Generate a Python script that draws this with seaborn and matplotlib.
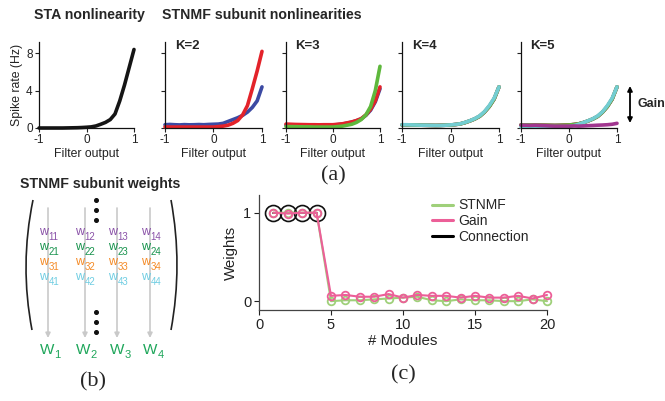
import matplotlib
matplotlib.use("Agg")
import matplotlib.pyplot as plt
import pandas as pd
import seaborn as sns
from matplotlib.lines import Line2D
from matplotlib.path import Path as MPath
from matplotlib.patches import PathPatch

# ---- panel (a) data: nonlinearities sampled on the filter-output axis ----
filter_x = [-1.0, -0.9, -0.8, -0.7, -0.6, -0.5, -0.4, -0.3, -0.2, -0.1, 0.0,
            0.1, 0.2, 0.3, 0.4, 0.5, 0.6, 0.7, 0.8, 0.9, 1.0]

sta_rate = [0.0, 0.0, 0.0, 0.0, 0.0, 0.0, 0.01, 0.02, 0.03, 0.05, 0.08,
            0.12, 0.22, 0.4, 0.6, 0.9, 1.5, 2.9, 4.6, 6.5, 8.4]

k2_red = [0.12, 0.1, 0.1, 0.1, 0.1, 0.1, 0.1, 0.1, 0.1, 0.1, 0.1,
          0.15, 0.2, 0.3, 0.5, 0.8, 1.4, 2.4, 4.2, 6.1, 8.2]
k2_blue = [0.35, 0.38, 0.35, 0.33, 0.36, 0.34, 0.35, 0.37, 0.35, 0.38, 0.4,
           0.42, 0.5, 0.7, 0.9, 1.1, 1.35, 1.7, 2.2, 2.9, 4.4]

k3_red = [0.42, 0.4, 0.38, 0.37, 0.36, 0.35, 0.35, 0.34, 0.35, 0.35, 0.35,
          0.4, 0.45, 0.55, 0.65, 0.8, 1.0, 1.4, 2.0, 2.9, 4.4]
k3_blue = [0.3, 0.3, 0.28, 0.28, 0.27, 0.27, 0.27, 0.28, 0.28, 0.3, 0.32,
           0.36, 0.42, 0.52, 0.63, 0.78, 0.98, 1.35, 1.9, 2.8, 4.2]
k3_green = [0.15, 0.15, 0.14, 0.13, 0.12, 0.12, 0.1, 0.1, 0.1, 0.1, 0.1,
            0.15, 0.2, 0.3, 0.4, 0.6, 0.9, 1.4, 2.3, 4.0, 6.6]

k4_cyan = [0.35, 0.35, 0.33, 0.32, 0.3, 0.3, 0.28, 0.27, 0.27, 0.3, 0.33,
           0.38, 0.45, 0.6, 0.78, 1.0, 1.3, 1.75, 2.4, 3.2, 4.4]
k4_other = [0.33, 0.34, 0.33, 0.31, 0.3, 0.29, 0.28, 0.27, 0.28, 0.3, 0.32,
            0.37, 0.44, 0.58, 0.76, 0.97, 1.25, 1.7, 2.3, 3.1, 4.4]

k5_cyan = [0.1, 0.1, 0.1, 0.1, 0.1, 0.1, 0.1, 0.1, 0.1, 0.12, 0.15,
           0.25, 0.4, 0.58, 0.78, 1.0, 1.3, 1.75, 2.4, 3.2, 4.4]
k5_purple = [0.3, 0.3, 0.28, 0.3, 0.27, 0.25, 0.22, 0.2, 0.2, 0.2, 0.2,
             0.22, 0.2, 0.22, 0.25, 0.27, 0.3, 0.32, 0.35, 0.4, 0.5]

RED, BLUE, GREEN = "#e3232a", "#3c4aa3", "#5eb83c"
CYAN, PURPLE = "#73cdd2", "#a1368f"

panels_a = [
    ("", [(sta_rate, "#151515")]),
    ("K=2", [(k2_blue, BLUE), (k2_red, RED)]),
    ("K=3", [(k3_blue, BLUE), (k3_red, RED), (k3_green, GREEN)]),
    ("K=4", [(k4_other, BLUE), (k4_other, RED), (k4_other, GREEN), (k4_cyan, CYAN)]),
    ("K=5", [(k4_other, BLUE), (k4_other, RED), (k4_other, GREEN),
             (k5_cyan, CYAN), (k5_purple, PURPLE)]),
]

# ---- panel (c) data ----
modules = list(range(1, 21))
stnmf_w = [1.0, 1.0, 1.0, 1.0, 0.0, 0.01, 0.01, 0.02, 0.03, 0.04,
           0.05, 0.01, 0.0, 0.02, 0.01, 0.01, 0.0, 0.0, 0.02, 0.0]
gain_w = [1.0, 0.99, 1.0, 1.0, 0.06, 0.07, 0.05, 0.05, 0.08, 0.04,
          0.07, 0.06, 0.06, 0.04, 0.06, 0.04, 0.04, 0.06, 0.03, 0.07]
conn_modules = [1, 2, 3, 4]
conn_w = [1.0, 1.0, 1.0, 1.0]

# ---- panel (b) labels ----
w_rows = [("11", "12", "13", "14"), ("21", "22", "23", "24"),
          ("31", "32", "33", "34"), ("41", "42", "43", "44")]
w_row_colors = ["#8a52a8", "#16924c", "#f48a26", "#6fcde2"]
W_labels = ["1", "2", "3", "4"]

W, H = 665, 401


def rect(left, top, right, bottom):
    return [left / W, 1 - bottom / H, (right - left) / W, (bottom - top) / H]


sns.set_style("ticks")
plt.rcParams["font.family"] = ["Liberation Sans", "DejaVu Sans"]
plt.rcParams["axes.unicode_minus"] = False

fig = plt.figure(figsize=(W / 100, H / 100), dpi=100)

# overlay in pixel coordinates for annotations
over = fig.add_axes([0, 0, 1, 1])
over.set_xlim(0, W)
over.set_ylim(H, 0)
over.axis("off")

a_boxes = [(39, 134), (165, 262), (286, 380), (402, 499), (521, 617)]
for (label, series), (left, right) in zip(panels_a, a_boxes):
    ax = fig.add_axes(rect(left, 42, right, 128))
    for vals, col in series:
        df = pd.DataFrame({"x": filter_x, "y": vals})
        sns.lineplot(data=df, x="x", y="y", ax=ax, color=col, lw=2.6,
                     solid_capstyle="round", clip_on=False)
    ax.set_xlim(-1, 1)
    ax.set_ylim(0, 9.2)
    ax.set_xticks([-1, 0, 1])
    ax.set_xticklabels(["-1", "0", "1"])
    ax.set_yticks([0, 4, 8])
    ax.tick_params(labelsize=8.5, length=3, width=0.8, pad=1.5, colors="#222222")
    ax.set_xlabel("Filter output", fontsize=8.8, labelpad=1, color="#222222")
    if label:
        ax.set_yticklabels([])
        ax.set_ylabel("")
        ax.text(0.1, 0.95, label, transform=ax.transAxes, fontsize=9.5,
                fontweight="bold", va="center", ha="left")
    else:
        ax.set_ylabel("Spike rate (Hz)", fontsize=8.8, labelpad=2, color="#222222")
    for s in ("left", "bottom"):
        ax.spines[s].set_linewidth(0.9)
        ax.spines[s].set_color("#111111")
    sns.despine(ax=ax)
    ax.patch.set_alpha(0)

over.text(89, 15, "STA nonlinearity", fontsize=10.2, fontweight="bold",
          ha="center", va="center")
over.text(162, 15, "STNMF subunit nonlinearities", fontsize=10.2,
          fontweight="bold", ha="left", va="center")
over.annotate("", xy=(630, 123), xytext=(630, 86),
              arrowprops=dict(arrowstyle="<|-|>", color="black", lw=1.3,
                              mutation_scale=7, shrinkA=0, shrinkB=0))
over.text(638, 104, "Gain", fontsize=9, fontweight="bold", ha="left", va="center")
over.text(333, 176, "(a)", family="Liberation Serif", fontsize=16,
          ha="center", va="center")

# ---- panel (b): weight matrix sketch ----
over.text(20, 184, "STNMF subunit weights", fontsize=10.2, fontweight="bold",
          ha="left", va="center")
for xs in ([(33, 200), (19.5, 265), (32, 330)], [(171, 200), (183, 265), (171, 330)]):
    path = MPath(xs, [MPath.MOVETO, MPath.CURVE3, MPath.CURVE3])
    over.add_patch(PathPatch(path, fill=False, lw=1.2, color="#222222"))
for x in (48, 85, 117, 150):
    over.annotate("", xy=(x, 338), xytext=(x, 208),
                  arrowprops=dict(arrowstyle="-|>", color="#c9c9c9", lw=1.2,
                                  mutation_scale=7, shrinkA=0, shrinkB=0))
for y in (200, 210, 220, 312, 322, 332):
    over.plot(96, y, "o", color="#111111", ms=2.6)
col_x = [39, 75, 108, 141]
row_y = [233, 248, 263, 278]
for subs, col, y in zip(w_rows, w_row_colors, row_y):
    for sub, x in zip(subs, col_x):
        over.text(x, y - 1, "w", color=col, fontsize=9, ha="left", va="center")
        over.text(x + 9.5, y + 4, sub, color=col, fontsize=7, ha="left", va="center")
for lab, x in zip(W_labels, [40, 76, 110, 143]):
    over.text(x, 350, "W", color="#1ea65a", fontsize=11, ha="left", va="center")
    over.text(x + 14.5, 355, lab, color="#1ea65a", fontsize=8, ha="left", va="center")
over.text(93, 382, "(b)", family="Liberation Serif", fontsize=16,
          ha="center", va="center")

# ---- panel (c): module weights ----
axc = fig.add_axes(rect(259, 195, 547, 310))
df_c = pd.DataFrame({"module": modules, "stnmf": stnmf_w, "gain": gain_w})
df_conn = pd.DataFrame({"module": conn_modules, "conn": conn_w})
sns.lineplot(data=df_conn, x="module", y="conn", ax=axc, color="black", lw=1.3,
             marker="o", ms=11.5, mfc="none", mec="#111111", mew=1.2, clip_on=False)
sns.lineplot(data=df_c, x="module", y="stnmf", ax=axc, color="#9fd07a", lw=1.5,
             marker="o", ms=5.5, mfc="none", mec="#9fd07a", mew=1.3, clip_on=False)
sns.lineplot(data=df_c, x="module", y="gain", ax=axc, color="#ec5f98", lw=1.5,
             marker="o", ms=5.5, mfc="none", mec="#ec5f98", mew=1.3, clip_on=False)
axc.set_xlim(0, 20)
axc.set_ylim(-0.1, 1.2)
axc.set_xticks([0, 5, 10, 15, 20])
axc.set_yticks([0, 1])
axc.tick_params(labelsize=10.5, length=3.5, width=0.8, pad=2, colors="#222222")
axc.set_xlabel("# Modules", fontsize=10.8, labelpad=2, color="#222222")
axc.set_ylabel("Weights", fontsize=10.8, labelpad=4, color="#222222")
for s in ("left", "bottom"):
    axc.spines[s].set_linewidth(0.9)
    axc.spines[s].set_color("#444444")
sns.despine(ax=axc)
axc.patch.set_alpha(0)
handles = [Line2D([], [], color="#9fd07a", lw=2.2),
           Line2D([], [], color="#ec5f98", lw=2.2),
           Line2D([], [], color="black", lw=2.2)]
axc.legend(handles, ["STNMF", "Gain", "Connection"], frameon=False,
           loc="upper left", bbox_to_anchor=(0.6, 0.97), fontsize=10,
           handlelength=1.5, handletextpad=0.4, labelspacing=0.12,
           borderaxespad=0, borderpad=0)
over.text(403, 375, "(c)", family="Liberation Serif", fontsize=16,
          ha="center", va="center")

fig.savefig("out.png", dpi=100)
